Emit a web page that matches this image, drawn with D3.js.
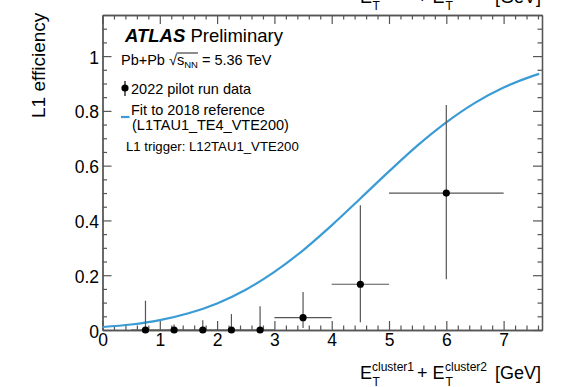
<!DOCTYPE html>
<html>
<head>
<meta charset="utf-8">
<script src="https://cdn.jsdelivr.net/npm/d3@7"></script>
<style>
  body { margin: 0; background: #fff; }
  text { font-family: "Liberation Sans", Arial, Helvetica, sans-serif; fill: #000; }
</style>
</head>
<body>
<div id="chart"></div>
<script>
// measured points (2022 pilot run)
const ptX = [0.75, 1.25, 1.75, 2.25, 2.75, 3.5, 4.5, 6];
const ptY = [0, 0, 0, 0, 0, 0.045, 0.167, 0.5];
const ptXerr = [0.25, 0.25, 0.25, 0.25, 0.25, 0.5, 0.5, 1];
const ptYup = [0.107, 0.02, 0.036, 0.058, 0.087, 0.094, 0.288, 0.321];
const ptYlo = [0, 0, 0, 0, 0, 0.038, 0.139, 0.315];

// fit to 2018 reference
const fitX = [0, 0.5, 1, 1.5, 2, 2.5, 3, 3.5, 4, 4.5, 5, 5.5, 6, 6.5, 7, 7.5, 7.62];
const fitY = [0.011, 0.020, 0.036, 0.061, 0.097, 0.147, 0.212, 0.291, 0.382, 0.480, 0.579, 0.674, 0.758, 0.829, 0.885, 0.927, 0.935];

const xTicks = [0, 1, 2, 3, 4, 5, 6, 7];
const yTicks = [0, 0.2, 0.4, 0.6, 0.8, 1];

const W = 562, H = 387;
const frame = { left: 102.5, right: 542, top: 15, bottom: 330 };
const axisColor = '#555';
const fitColor = '#3a9bd5';

const svg = d3.select('#chart').append('svg')
  .attr('width', W).attr('height', H);

const x = d3.scaleLinear().domain([0, 7.67]).range([frame.left, frame.right]);
const y = d3.scaleLinear().domain([0, 1.15]).range([frame.bottom, frame.top]);

const xMinor = d3.range(0, 7.67, 0.2).filter(v => Math.abs(v - Math.round(v)) > 1e-6);
const yMinor = d3.range(0, 1.15, 0.05).filter(v => Math.abs(v / 0.2 - Math.round(v / 0.2)) > 1e-6);

const styleAxis = g => {
  g.selectAll('path').attr('stroke', axisColor).attr('stroke-width', 1.3);
  g.selectAll('line').attr('stroke', axisColor).attr('stroke-width', 1.2);
};

// ticks on all four sides, pointing inward
const addAxis = (axisFn, scale, tr, major, minor, labels) => {
  const gMin = svg.append('g').attr('transform', tr)
    .call(axisFn(scale).tickValues(minor).tickSize(-4.5).tickSizeOuter(0).tickFormat(''));
  styleAxis(gMin);
  const gMaj = svg.append('g').attr('transform', tr)
    .call(axisFn(scale).tickValues(major).tickSize(-9).tickSizeOuter(0)
      .tickPadding(5).tickFormat(labels ? d3.format('') : ''));
  styleAxis(gMaj);
  gMaj.selectAll('text').attr('font-size', 17.5).attr('fill', '#000')
    .style('font-family', '"Liberation Sans", Arial, sans-serif');
  return gMaj;
};

const gx = addAxis(d3.axisBottom, x, `translate(0,${frame.bottom})`, xTicks, xMinor, true);
gx.selectAll('text').attr('dy', '0.66em').attr('y', 4.5);
addAxis(d3.axisTop, x, `translate(0,${frame.top})`, xTicks, xMinor, false);
const gy = addAxis(d3.axisLeft, y, `translate(${frame.left},0)`, yTicks, yMinor, true);
gy.selectAll('text').attr('dy', '0.4em').attr('x', -3.5);
addAxis(d3.axisRight, y, `translate(${frame.right},0)`, yTicks, yMinor, false);

// fit curve
const fitData = fitX.map((v, i) => ({ x: v, y: fitY[i] }));
svg.append('path')
  .datum(fitData)
  .attr('fill', 'none')
  .attr('stroke', fitColor)
  .attr('stroke-width', 2.2)
  .attr('d', d3.line().x(d => x(d.x)).y(d => y(d.y)).curve(d3.curveMonotoneX));

// data points with error bars
const pts = ptX.map((v, i) => ({ x: v, y: ptY[i], xe: ptXerr[i], up: ptYup[i], lo: ptYlo[i] }));
const pg = svg.append('g');
pg.selectAll('.xerr').data(pts).enter().append('line')
  .attr('x1', d => x(d.x - d.xe)).attr('x2', d => x(d.x + d.xe))
  .attr('y1', d => y(d.y)).attr('y2', d => y(d.y))
  .attr('stroke', axisColor).attr('stroke-width', 1.2);
pg.selectAll('.yerr').data(pts).enter().append('line')
  .attr('x1', d => x(d.x)).attr('x2', d => x(d.x))
  .attr('y1', d => y(d.y - d.lo)).attr('y2', d => y(d.y + d.up))
  .attr('stroke', axisColor).attr('stroke-width', 1.2);
pg.selectAll('circle').data(pts).enter().append('circle')
  .attr('cx', d => x(d.x)).attr('cy', d => y(d.y))
  .attr('r', 3.6).attr('fill', '#000');

// ATLAS label
const atlas = svg.append('text').attr('x', 125).attr('y', 42).attr('font-size', 18.5);
atlas.append('tspan').attr('font-weight', 'bold').attr('font-style', 'italic').text('ATLAS');
atlas.append('tspan').text(' Preliminary');

// Pb+Pb sqrt(sNN)
const ener = svg.append('text').attr('x', 121).attr('y', 65).attr('font-size', 14.5);
ener.append('tspan').text('Pb+Pb \u221A');
ener.append('tspan').text('s');
ener.append('tspan').attr('font-size', 9.5).attr('dy', 3).text('NN');
ener.append('tspan').attr('dy', -3).text(' = 5.36 TeV');
{
  const el = ener.node();
  const s0 = el.getEndPositionOfChar(6);
  const s1 = el.getEndPositionOfChar(9);
  svg.append('line').attr('x1', s0.x - 0.5).attr('x2', s1.x)
    .attr('y1', 53).attr('y2', 53).attr('stroke', '#000').attr('stroke-width', 0.9);
}

// legend
svg.append('line').attr('x1', 125).attr('x2', 125).attr('y1', 81).attr('y2', 96)
  .attr('stroke', '#000').attr('stroke-width', 1.2);
svg.append('circle').attr('cx', 125).attr('cy', 88).attr('r', 3.6).attr('fill', '#000');
svg.append('text').attr('x', 131).attr('y', 94).attr('font-size', 14.5).text('2022 pilot run data');
svg.append('line').attr('x1', 121).attr('x2', 129.5).attr('y1', 117).attr('y2', 117)
  .attr('stroke', fitColor).attr('stroke-width', 2.2);
svg.append('text').attr('x', 131).attr('y', 115).attr('font-size', 14.5).text('Fit to 2018 reference');
svg.append('text').attr('x', 132).attr('y', 130).attr('font-size', 14.5).text('(L1TAU1_TE4_VTE200)');
svg.append('text').attr('x', 126).attr('y', 151).attr('font-size', 13.2).text('L1 trigger: L12TAU1_VTE200');

// y title
svg.append('text')
  .attr('transform', 'translate(45,118) rotate(-90)')
  .attr('font-size', 19)
  .text('L1 efficiency');

// x title (also the clipped copy from the plot above at the top edge)
const xTitle = (dyShift) => {
  const g = svg.append('g').attr('transform', `translate(0,${dyShift})`);
  const parts = [
    { t: 'E', x: 360, y: 379, s: 18 },
    { t: 'cluster1', x: 372, y: 371, s: 12 },
    { t: 'T', x: 372.5, y: 385.5, s: 12 },
    { t: '+', x: 417, y: 379, s: 18 },
    { t: 'E', x: 432.5, y: 379, s: 18 },
    { t: 'cluster2', x: 445, y: 371, s: 12 },
    { t: 'T', x: 445.5, y: 385.5, s: 12 },
    { t: '[GeV]', x: 495, y: 379, s: 18 },
  ];
  g.selectAll('text').data(parts).enter().append('text')
    .attr('x', d => d.x).attr('y', d => d.y).attr('font-size', d => d.s).text(d => d.t);
};
xTitle(0);
xTitle(-376);
</script>
</body>
</html>
